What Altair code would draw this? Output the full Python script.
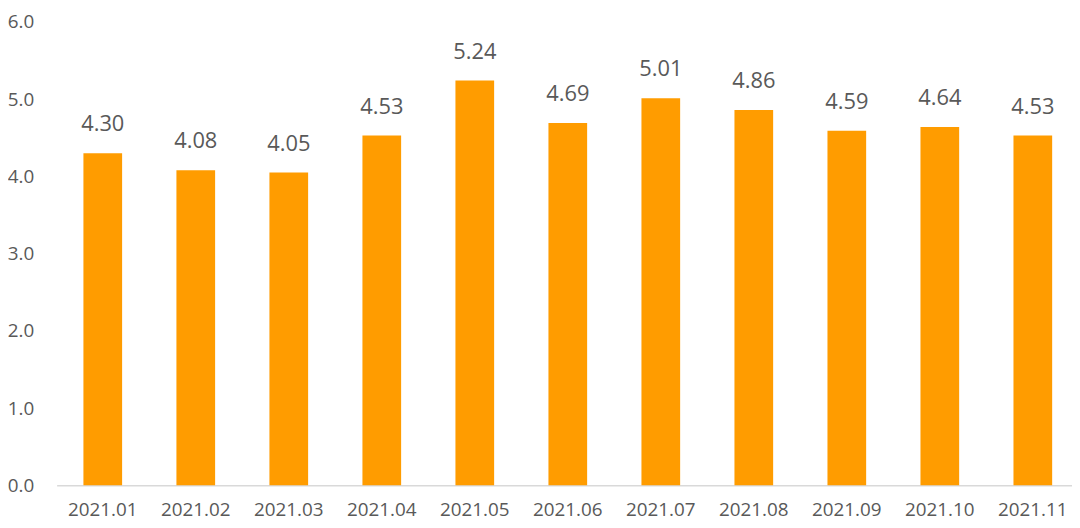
import altair as alt
import pandas as pd

months = ["2021.01", "2021.02", "2021.03", "2021.04", "2021.05", "2021.06",
          "2021.07", "2021.08", "2021.09", "2021.10", "2021.11"]
values = [4.30, 4.08, 4.05, 4.53, 5.24, 4.69, 5.01, 4.86, 4.59, 4.64, 4.53]
y_ticks = [0, 1, 2, 3, 4, 5, 6]

df = pd.DataFrame({"month": months, "value": values})
df["label"] = [f"{v:.2f}" for v in values]

FONT = "Open Sans"
GRAY = "#595959"

x = alt.X("month:N", sort=months, title=None,
          scale=alt.Scale(range=[0, 1030], paddingInner=0.584, paddingOuter=0.288),
          axis=alt.Axis(labelAngle=0, ticks=False, domain=True, domainColor="#d9d9d9",
                        domainWidth=1.5, labelFontSize=19, labelColor=GRAY, labelFont=FONT,
                        labelPadding=15, grid=False))
y = alt.Y("value:Q", title=None,
          scale=alt.Scale(domain=[0, 6], nice=False),
          axis=alt.Axis(values=y_ticks, format=".1f", ticks=False, domain=False, grid=False,
                        labelFontSize=19, labelColor=GRAY, labelFont=FONT, labelPadding=23))

bars = alt.Chart(df).mark_bar(color="#FF9C00").encode(x=x, y=y)
texts = alt.Chart(df).mark_text(fontSize=22, font=FONT, color=GRAY, baseline="alphabetic",
                                dy=-22).encode(x=x, y=y, text="label:N")

chart = (bars + texts).properties(
    width=1023, height=467,
    autosize=alt.AutoSizeParams(type="none"),
    padding={"left": 49, "top": 12, "right": 0, "bottom": 41},
).configure_view(stroke=None)

chart.save("out.html", embed_options={"renderer": "svg", "actions": False})
